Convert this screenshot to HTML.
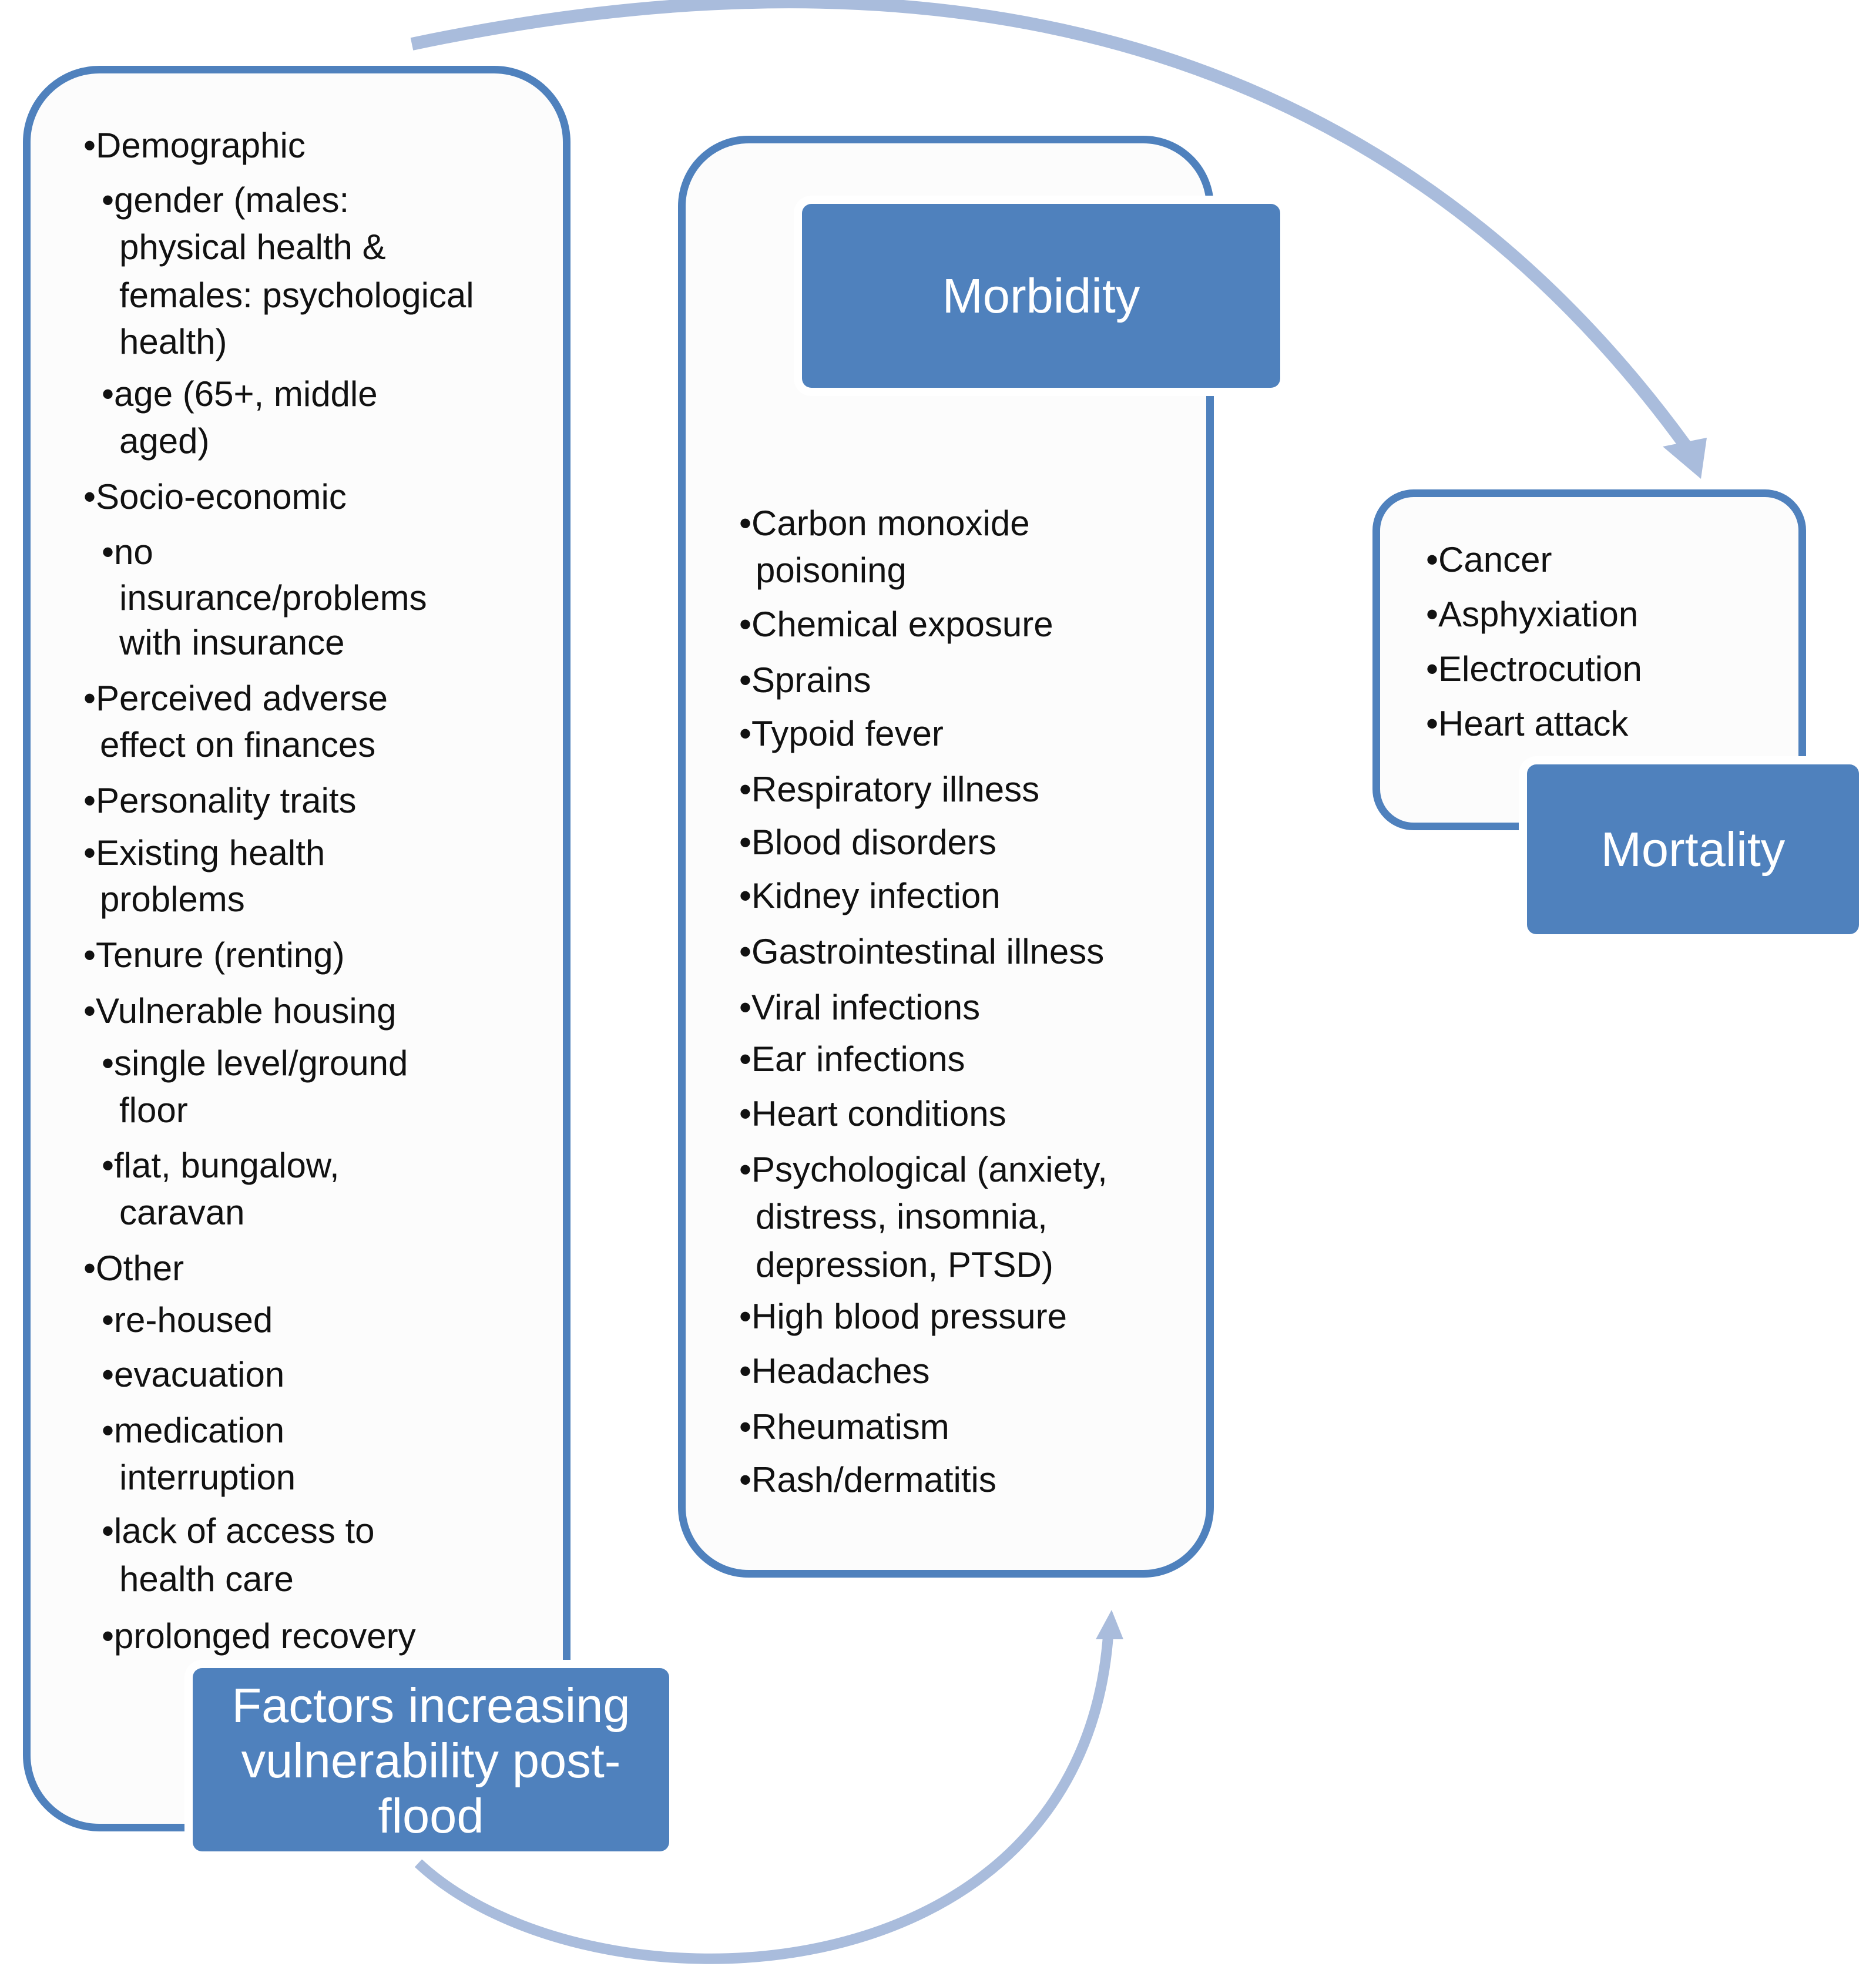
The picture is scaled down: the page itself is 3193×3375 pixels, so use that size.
<!DOCTYPE html>
<html><head><meta charset="utf-8"><style>
html,body{margin:0;padding:0;background:#fff}
body{width:3193px;height:3375px;position:relative;overflow:hidden;font-family:"Liberation Sans",sans-serif}
.box{position:absolute;border:13px solid #4f81bd;background:#fcfcfc;box-sizing:border-box}
.lab{position:absolute;background:#4f81bd;color:#fff;border-radius:16px;box-shadow:0 0 0 14px #fff;display:flex;align-items:center;justify-content:center;text-align:center;font-size:83px;line-height:94px;box-sizing:border-box}
.t{position:absolute;font-size:60px;color:#111;white-space:nowrap;line-height:1;transform:translateY(-50%)}
</style></head><body>
<svg style="position:absolute;left:0;top:0" width="3193" height="3375">
<path d="M701 75 Q2150 -230 2870 760" fill="none" stroke="#a9bcdc" stroke-width="22"/>
<polygon points="2830,760 2905,745 2895,815" fill="#a9bcdc"/>
<path d="M712 3171 C1000 3440 1850 3420 1887 2770" fill="none" stroke="#a9bcdc" stroke-width="18"/>
<polygon points="1865,2790 1912,2790 1892,2740" fill="#a9bcdc"/>
</svg>
<div class="box" style="left:39px;top:112px;width:932px;height:3005px;border-radius:130px"></div>
<div class="box" style="left:1154px;top:231px;width:912px;height:2454px;border-radius:120px"></div>
<div class="box" style="left:2336px;top:833px;width:738px;height:580px;border-radius:70px"></div>
<div class="lab" style="left:1365px;top:347px;width:814px;height:313px">Morbidity</div>
<div class="lab" style="left:2599px;top:1301px;width:565px;height:289px">Mortality</div>
<div class="lab" style="left:328px;top:2839px;width:811px;height:312px;padding-top:4px">Factors increasing<br>vulnerability post-<br>flood</div>

<div class="t" style="left:142px;top:248px">•Demographic</div>
<div class="t" style="left:173px;top:341px">•gender (males:</div>
<div class="t" style="left:203px;top:421px">physical health &amp;</div>
<div class="t" style="left:203px;top:503px">females: psychological</div>
<div class="t" style="left:203px;top:582px">health)</div>
<div class="t" style="left:173px;top:671px">•age (65+, middle</div>
<div class="t" style="left:203px;top:751px">aged)</div>
<div class="t" style="left:142px;top:846px">•Socio-economic</div>
<div class="t" style="left:173px;top:940px">•no</div>
<div class="t" style="left:203px;top:1018px">insurance/problems</div>
<div class="t" style="left:203px;top:1094px">with insurance</div>
<div class="t" style="left:142px;top:1189px">•Perceived adverse</div>
<div class="t" style="left:170px;top:1268px">effect on finances</div>
<div class="t" style="left:142px;top:1363px">•Personality traits</div>
<div class="t" style="left:142px;top:1452px">•Existing health</div>
<div class="t" style="left:170px;top:1531px">problems</div>
<div class="t" style="left:142px;top:1626px">•Tenure (renting)</div>
<div class="t" style="left:142px;top:1721px">•Vulnerable housing</div>
<div class="t" style="left:173px;top:1810px">•single level/ground</div>
<div class="t" style="left:203px;top:1890px">floor</div>
<div class="t" style="left:173px;top:1984px">•flat, bungalow,</div>
<div class="t" style="left:203px;top:2064px">caravan</div>
<div class="t" style="left:142px;top:2159px">•Other</div>
<div class="t" style="left:173px;top:2247px">•re-housed</div>
<div class="t" style="left:173px;top:2340px">•evacuation</div>
<div class="t" style="left:173px;top:2435px">•medication</div>
<div class="t" style="left:203px;top:2515px">interruption</div>
<div class="t" style="left:173px;top:2606px">•lack of access to</div>
<div class="t" style="left:203px;top:2688px">health care</div>
<div class="t" style="left:173px;top:2785px">•prolonged recovery</div>

<div class="t" style="left:1258px;top:891px">•Carbon monoxide</div>
<div class="t" style="left:1286px;top:971px">poisoning</div>
<div class="t" style="left:1258px;top:1063px">•Chemical exposure</div>
<div class="t" style="left:1258px;top:1158px">•Sprains</div>
<div class="t" style="left:1258px;top:1249px">•Typoid fever</div>
<div class="t" style="left:1258px;top:1344px">•Respiratory illness</div>
<div class="t" style="left:1258px;top:1434px">•Blood disorders</div>
<div class="t" style="left:1258px;top:1525px">•Kidney infection</div>
<div class="t" style="left:1258px;top:1620px">•Gastrointestinal illness</div>
<div class="t" style="left:1258px;top:1715px">•Viral infections</div>
<div class="t" style="left:1258px;top:1803px">•Ear infections</div>
<div class="t" style="left:1258px;top:1896px">•Heart conditions</div>
<div class="t" style="left:1258px;top:1991px">•Psychological (anxiety,</div>
<div class="t" style="left:1286px;top:2071px">distress, insomnia,</div>
<div class="t" style="left:1286px;top:2153px">depression, PTSD)</div>
<div class="t" style="left:1258px;top:2241px">•High blood pressure</div>
<div class="t" style="left:1258px;top:2334px">•Headaches</div>
<div class="t" style="left:1258px;top:2429px">•Rheumatism</div>
<div class="t" style="left:1258px;top:2519px">•Rash/dermatitis</div>

<div class="t" style="left:2427px;top:953px">•Cancer</div>
<div class="t" style="left:2427px;top:1046px">•Asphyxiation</div>
<div class="t" style="left:2427px;top:1139px">•Electrocution</div>
<div class="t" style="left:2427px;top:1232px">•Heart attack</div>
</body></html>
